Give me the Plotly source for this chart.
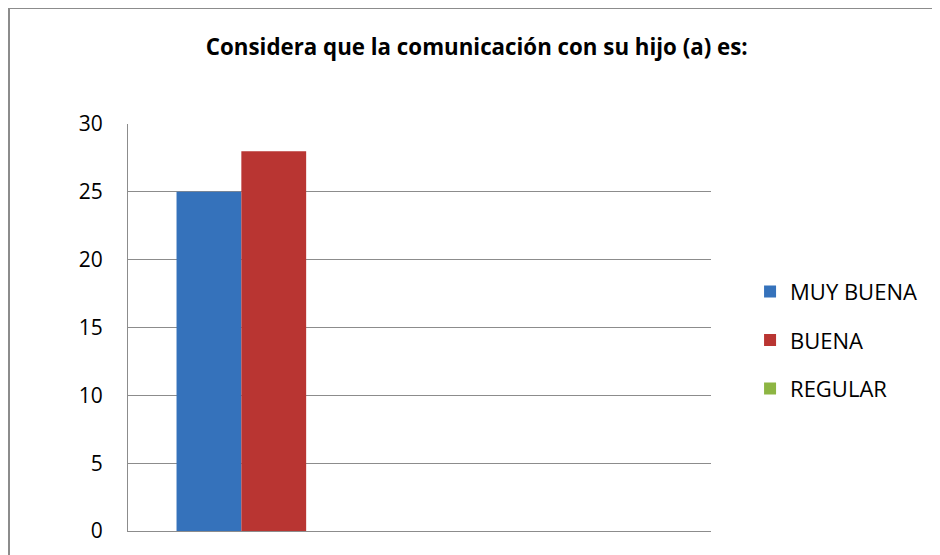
import plotly.graph_objects as go

# data
categories = [1]
series_names = ["MUY BUENA", "BUENA", "REGULAR"]
series_values = [[25], [28], [0]]
series_colors = ["#3572bb", "#b93532", "#8db543"]
y_ticks = [0, 5, 10, 15, 20, 25, 30]

fig = go.Figure()
for name, vals, col in zip(series_names, series_values, series_colors):
    fig.add_trace(go.Bar(
        x=categories, y=vals, name=name,
        marker=dict(color=col, line=dict(width=0)),
        legendgroup=name,
    ))

# page body has an 8px margin, so the figure is 8px smaller each way
fig.update_layout(
    width=932, height=547,
    margin=dict(l=120, r=229, t=116, b=24),
    paper_bgcolor="white", plot_bgcolor="white",
    font=dict(family="Open Sans, Liberation Sans, sans-serif", color="black", size=21),
    title=dict(
        text="<b>Considera que la comunicación con su hijo (a) es:</b>",
        x=0.503, xanchor="center", y=0.929, yanchor="middle",
        font=dict(size=22.3, color="black"),
    ),
    barmode="group",
    bargap=0.333,
    bargroupgap=0,
    showlegend=True,
    legend=dict(
        x=1.067, xanchor="left", y=0.469, yanchor="middle",
        font=dict(size=22), traceorder="grouped", tracegroupgap=17,
        itemwidth=30,
    ),
)
fig.update_xaxes(
    range=[0.5, 2.5], showticklabels=False, showgrid=False,
    zeroline=False, showline=True, linecolor="#8c8c8c", linewidth=1.3, ticks="",
)
fig.update_yaxes(
    range=[0, 30], tickvals=y_ticks, showgrid=True, gridcolor="#8c8c8c",
    gridwidth=1.3, zeroline=False, showline=True, linecolor="#8c8c8c",
    linewidth=1.3, ticks="", ticklabelstandoff=20,
)

# outer chart border (only top and left edges are visible in the reference)
border = dict(color="#8c8c8c", width=2)
fig.add_shape(type="line", xref="paper", yref="paper",
              x0=-119 / 583, x1=830 / 583, y0=523 / 407, y1=523 / 407, line=border)
fig.add_shape(type="line", xref="paper", yref="paper",
              x0=-119 / 583, x1=-119 / 583, y0=523 / 407, y1=-30 / 407, line=border)

fig.write_html("out.html")
